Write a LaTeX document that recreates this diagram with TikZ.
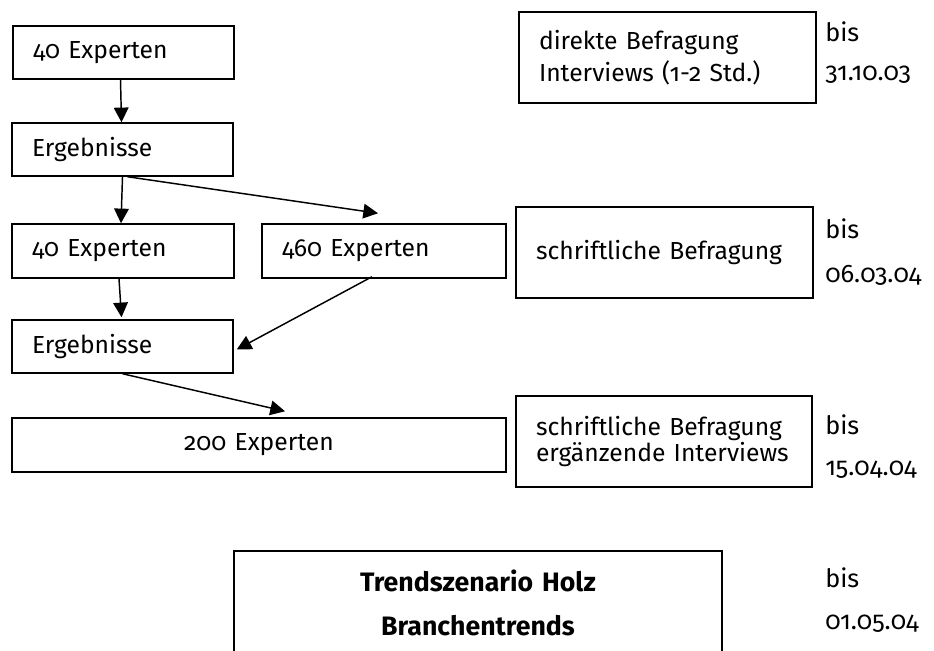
\documentclass[tikz,border=0pt]{standalone}
\usepackage{fontspec}
\setmainfont{Fira Sans}[Numbers=OldStyle]
\usetikzlibrary{arrows.meta,calc}
\tikzset{
  box/.style={draw, line width=1.1pt, rectangle, inner xsep=15pt, inner ysep=0pt, align=left},
  flow/.style={line width=1.1pt, -{Triangle[length=11pt,width=11pt]}},
  date/.style={anchor=west, inner sep=0pt, font=\fontsize{19}{22}\selectfont},
}
\begin{document}
\begin{tikzpicture}[x=0.75pt,y=0.75pt,yscale=-1,xscale=1, font=\fontsize{18.5}{22}\selectfont]
\useasboundingbox (0,0) rectangle (934,650);
\clip (0,0) rectangle (934,650);

% Left column
\node[box, text width=135.75pt, minimum height=39.75pt] (exp1) at (123.5,52.5) {40 Experten};
\node[box, text width=135.75pt, minimum height=39.75pt] (erg1) at (122.5,149.5) {Ergebnisse};
\node[box, text width=136.5pt, minimum height=40.5pt] (exp2) at (123,251) {40 Experten};
\node[box, text width=153pt, minimum height=40.5pt] (exp3) at (384,251) {460 Experten};
\node[box, text width=135.75pt, minimum height=39.75pt] (erg2) at (122.5,346.5) {Ergebnisse};
\node[box, align=center, text width=340.5pt, minimum height=40.5pt] (exp4) at (259,445) {200 Experten};

% Right column
\node[box, text width=192.75pt, minimum height=68.25pt, font=\fontsize{18.5}{23.5}\selectfont] (befr1) at (667.5,57.5) {direkte Befragung\\Interviews (1-2 Std.)};
\node[box, text width=192.75pt, minimum height=68.25pt] (befr2) at (664.5,252.5) {schriftliche Befragung};
\node[box, text width=192pt, minimum height=68.25pt, font=\fontsize{18.5}{17}\selectfont] (befr3) at (664,441.5) {schriftliche Befragung\\ergänzende Interviews};
\node[box, align=center, text width=336pt, minimum height=78pt, font=\fontsize{20}{33}\selectfont\bfseries] (trend) at (478,603) {Trendszenario Holz\\Branchentrends};

% Text Node
\node[date] (bis1) at (825,32) {bis};
\node[date] (dat1) at (825,75) {31.10.03};
\node[date] (bis2) at (825,229) {bis};
\node[date] (dat2) at (825,275) {06.03.04};
\node[date] (bis3) at (825,425) {bis};
\node[date] (dat3) at (825,470) {15.04.04};
\node[date] (bis4) at (825,578) {bis};
\node[date] (dat4) at (825,624) {01.05.04};

%Straight Lines
\draw[flow] ($(exp1.south)+(-3,0)$) -- ($(erg1.north)+(-1,0)$);
\draw[flow] (erg1.south) -- ($(exp2.north)+(-2,0)$);
\draw[flow] ($(erg1.south)+(5,0)$) -- ($(exp3.north)+(-6,-10)$);
\draw[flow] ($(exp2.south)+(-4,0)$) -- ($(erg2.north)+(-1,-2)$);
\draw[flow] ($(exp3.south)+(-12,-2)$) -- ($(erg2.east)+(3,3)$);
\draw[flow] (erg2.south) -- ($(exp4.north)+(26,-6)$);
\end{tikzpicture}
\end{document}
